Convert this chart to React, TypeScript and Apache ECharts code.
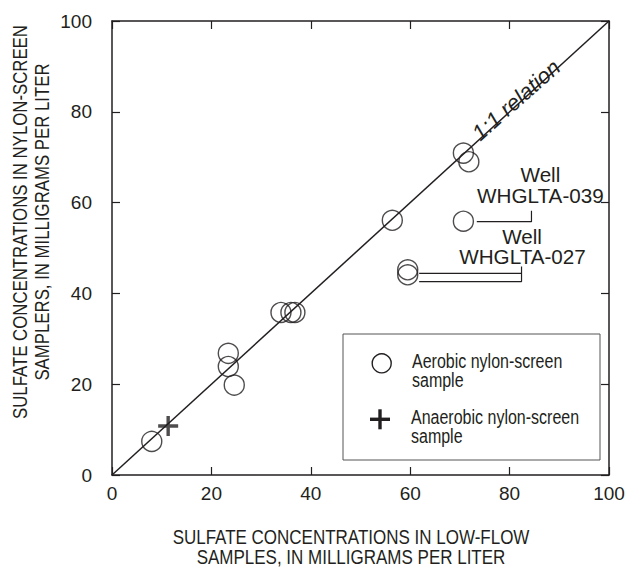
import React, { useEffect, useRef } from 'react';
import * as echarts from 'echarts';

// ---- data ----
const aerobicX = [8.0, 23.4, 23.4, 24.6, 34.0, 36.0, 36.8, 56.4, 70.7, 71.8, 70.7, 59.5, 59.5];
const aerobicY = [7.4, 26.8, 23.9, 19.8, 35.8, 35.8, 35.8, 56.1, 70.9, 69.0, 55.9, 45.2, 44.1];
const anaerobicX = [11.3];
const anaerobicY = [10.8];
const oneToOneLine = [[0, 0], [100, 100]];
const leader039 = [[73.4, 55.8], [84.4, 55.8], [84.4, 58.2]];
const leader027a = [[61.8, 44.4], [82.4, 44.4]];
const leader027b = [[61.8, 42.6], [82.4, 42.6], [82.4, 45.9]];
const wellLabels = [
  { text: 'Well', x: 86.2, y: 66.1 },
  { text: 'WHGLTA-039', x: 86.2, y: 61.3 },
  { text: 'Well', x: 82.5, y: 52.4 },
  { text: 'WHGLTA-027', x: 82.6, y: 47.95 },
];
const relationLabel = { text: '1:1 relation', x: 81.3, y: 82.6, angle: 41.5 };
const xTitle = 'SULFATE CONCENTRATIONS IN LOW-FLOW\nSAMPLES, IN MILLIGRAMS PER LITER';
const yTitle = 'SULFATE CONCENTRATIONS IN NYLON-SCREEN\nSAMPLERS, IN MILLIGRAMS PER LITER';
const legendAerobic = 'Aerobic nylon-screen\nsample';
const legendAnaerobic = 'Anaerobic nylon-screen\nsample';

const INK = '#231f20';
const SANS = '"Liberation Sans", Arial, Helvetica, sans-serif';
const CROSS = 'path://M8.3 0H11.7V20H8.3Z M0 8.3H20V11.7H0Z';

export default function App() {
  const ref = useRef<HTMLDivElement>(null);
  useEffect(() => {
    if (!ref.current) return;
    const chart = echarts.init(ref.current, undefined, { renderer: 'svg' });
    const axisCommon = {
      type: 'value' as const,
      min: 0,
      max: 100,
      interval: 20,
      axisLine: { show: true, onZero: false, lineStyle: { color: INK, width: 1.5 } },
      axisTick: { show: true, inside: true, length: 8, lineStyle: { color: INK, width: 1.2 } },
      splitLine: { show: false },
    };
    const labelStyle = { color: INK, fontSize: 19, fontFamily: SANS };
    chart.setOption({
      animation: false,
      grid: { left: 112, right: 27, top: 21, bottom: 101, containLabel: false },
      xAxis: [
        { ...axisCommon, position: 'bottom', axisLabel: { ...labelStyle, margin: 9 } },
        { ...axisCommon, position: 'top', axisLabel: { show: false } },
      ],
      yAxis: [
        { ...axisCommon, position: 'left', axisLabel: { ...labelStyle, margin: 20 } },
        { ...axisCommon, position: 'right', axisLabel: { show: false } },
      ],
      series: [
        {
          type: 'line', data: oneToOneLine, symbol: 'none', silent: true,
          lineStyle: { color: INK, width: 1.5 },
        },
        {
          type: 'line', data: leader039, symbol: 'none', silent: true,
          lineStyle: { color: INK, width: 1.2 },
        },
        {
          type: 'line', data: leader027a, symbol: 'none', silent: true,
          lineStyle: { color: INK, width: 1.2 },
        },
        {
          type: 'line', data: leader027b, symbol: 'none', silent: true,
          lineStyle: { color: INK, width: 1.2 },
        },
        {
          name: 'Aerobic nylon-screen sample',
          type: 'scatter',
          symbol: 'circle',
          symbolSize: 20,
          data: aerobicX.map((x, i) => [x, aerobicY[i]]),
          itemStyle: { color: 'rgba(0,0,0,0)', borderColor: INK, borderWidth: 1.4 },
        },
        {
          name: 'Anaerobic nylon-screen sample',
          type: 'scatter',
          symbol: CROSS,
          symbolSize: 20,
          data: anaerobicX.map((x, i) => [x, anaerobicY[i]]),
          itemStyle: { color: INK },
        },
      ],
    });

    const px = (x: number, y: number) =>
      chart.convertToPixel({ xAxisIndex: 0, yAxisIndex: 0 }, [x, y]) as number[];

    const textEl = (text: string, x: number, y: number, size: number, extra: any = {}) => ({
      type: 'text',
      x,
      y,
      rotation: extra.rotation || 0,
      scaleX: extra.scaleX || 1,
      silent: true,
      style: {
        text,
        fill: INK,
        fontSize: size,
        fontFamily: SANS,
        fontStyle: extra.fontStyle || 'normal',
        lineHeight: extra.lineHeight || size,
        align: extra.align || 'center',
        textAlign: extra.align || 'center',
        verticalAlign: 'middle',
        textVerticalAlign: 'middle',
      },
    });

    const rp = px(relationLabel.x, relationLabel.y);
    const graphics: any[] = [
      textEl(xTitle, 351, 547, 20, { lineHeight: 20, scaleX: 0.85 }),
      textEl(yTitle, 30.5, 222, 20, { lineHeight: 22, rotation: Math.PI / 2, scaleX: 0.84 }),
      textEl(relationLabel.text, rp[0], rp[1], 22, {
        rotation: (relationLabel.angle * Math.PI) / 180,
        fontStyle: 'italic',
      }),
      ...wellLabels.map((w) => {
        const p = px(w.x, w.y);
        return textEl(w.text, p[0], p[1], 19.5, { scaleX: 1.06 });
      }),
      // legend box
      {
        type: 'rect', silent: true,
        shape: { x: 343, y: 334, width: 257, height: 126 },
        style: { fill: '#fff', stroke: '#555', lineWidth: 1 },
      },
      {
        type: 'circle', silent: true,
        shape: { cx: 381.7, cy: 363.3, r: 9.5 },
        style: { fill: 'none', stroke: INK, lineWidth: 1.4 },
      },
      {
        type: 'rect', silent: true,
        shape: { x: 370, y: 417.6, width: 20, height: 3.4 },
        style: { fill: INK },
      },
      {
        type: 'rect', silent: true,
        shape: { x: 378.3, y: 409.3, width: 3.4, height: 20 },
        style: { fill: INK },
      },
      textEl(legendAerobic, 412, 371, 20, { align: 'left', lineHeight: 19, scaleX: 0.8 }),
      textEl(legendAnaerobic, 411, 427, 20, { align: 'left', lineHeight: 19, scaleX: 0.8 }),
    ];
    chart.setOption({ graphic: graphics });

    return () => chart.dispose();
  }, []);

  return (
    <div
      ref={ref}
      style={{ position: 'fixed', left: 0, top: 0, width: 636, height: 576, background: '#fff' }}
    />
  );
}
